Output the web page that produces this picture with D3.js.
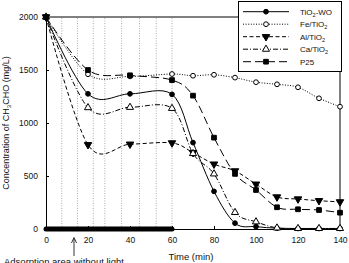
<!DOCTYPE html>
<html>
<head>
<meta charset="utf-8">
<script src="https://cdn.jsdelivr.net/npm/d3@7"></script>
<style>
  body { margin: 0; background: #fff; }
  svg { display: block; font-family: Arial, "Liberation Sans", sans-serif; }
</style>
</head>
<body>
<svg id="chart"></svg>
<script>
// data
var times = [0, 20, 40, 60, 70, 80, 90, 100, 110, 120, 130, 140];
var tio2wo = [2000, 1275, 1275, 1270, 815, 355, 55, 22, 8, 5, 5, 5];
var feTio2 = [2000, 1460, 1440, 1462, 1446, 1455, 1428, 1385, 1365, 1337, 1233, 1154];
var alTio2 = [2000, 795, 800, 812, 720, 612, 548, 423, 302, 283, 267, 256];
var caTio2 = [2000, 1145, 1148, 1138, 712, 520, 156, 68, 10, 5, 5, 5];
var p25 = [2000, 1500, 1450, 1405, 1258, 862, 520, 368, 205, 186, 179, 154];
var gridTimes = [7.5, 15, 22.5, 28, 36, 44.5, 52.5, 60];
var darkSpan = [0, 60];
var xTicks = [0, 20, 40, 60, 80, 100, 120, 140];
var yTicks = [0, 500, 1000, 1500, 2000];

var svg = d3.select("#chart").attr('width', 349).attr('height', 263);

var xScale = d3.scaleLinear().domain([0, 140]).range([46, 340]);
var yScale = d3.scaleLinear().domain([0, 2000]).range([229, 17]);

// vertical dotted lines in the dark period
svg.selectAll('.grid')
  .data(gridTimes)
  .enter()
  .append('line')
  .attr('x1', function(d){return xScale(d)})
  .attr('x2', function(d){return xScale(d)})
  .attr('y1', yScale(0))
  .attr('y2', yScale(2000))
  .attr('stroke', '#999')
  .attr('stroke-width', 0.8)
  .attr('stroke-dasharray', '1,1.5');

// frame
svg.append('path')
  .attr('d', 'M' + xScale(0) + ',' + yScale(2000) + 'H' + xScale(140) + 'V' + yScale(0))
  .attr('fill', 'none')
  .attr('stroke', '#000')
  .attr('stroke-width', 1);

var xAxis = d3.axisBottom(xScale).tickValues(xTicks).tickSizeInner(-3).tickSizeOuter(0).tickPadding(8);
var yAxis = d3.axisLeft(yScale).tickValues(yTicks).tickFormat(d3.format('d')).tickSizeInner(-3).tickSizeOuter(0).tickPadding(8);

var gx = svg.append('g').attr('transform', 'translate(0,' + yScale(0) + ')').call(xAxis);
var gy = svg.append('g').attr('transform', 'translate(' + xScale(0) + ',0)').call(yAxis);
[gx, gy].forEach(function(g){
  g.selectAll('text').attr('font-size', 8.5).attr('font-family', 'Arial, "Liberation Sans", sans-serif').attr('fill', '#111');
  g.select('.domain').attr('stroke', '#000');
});

var series = [
  {name: 'TiO2-WO', sub: ['TiO', '2', '-WO'], values: tio2wo, dash: null, marker: 'circle', fill: '#000'},
  {name: 'Fe/TiO2', sub: ['Fe/TiO', '2', ''], values: feTio2, dash: '1,1.6', marker: 'circle', fill: '#fff'},
  {name: 'Al/TiO2', sub: ['Al/TiO', '2', ''], values: alTio2, dash: '4,2.5', marker: 'down', fill: '#000'},
  {name: 'Ca/TiO2', sub: ['Ca/TiO', '2', ''], values: caTio2, dash: '5,2,1,2', marker: 'up', fill: '#fff'},
  {name: 'P25', sub: ['P25', '', ''], values: p25, dash: '8,4', marker: 'square', fill: '#000'}
];

var line = d3.line()
  .x(function(d){return xScale(d[0])})
  .y(function(d){return yScale(d[1])})
  .curve(d3.curveCatmullRom.alpha(0));

var symbolFor = function(m){
  if (m == 'circle') return d3.symbol().type(d3.symbolCircle).size(18)();
  if (m == 'square') return d3.symbol().type(d3.symbolSquare).size(22)();
  if (m == 'up') return d3.symbol().type(d3.symbolTriangle).size(22)();
  return d3.symbol().type(d3.symbolTriangle).size(24)();
};

series.forEach(function(s){
  var pts = times.map(function(t, i){return [t, s.values[i]]});
  svg.append('path')
    .attr('d', line(pts))
    .attr('fill', 'none')
    .attr('stroke', '#000')
    .attr('stroke-width', 1)
    .attr('stroke-dasharray', s.dash);
  svg.selectAll(null)
    .data(pts)
    .enter()
    .append('path')
    .attr('d', symbolFor(s.marker))
    .attr('transform', function(d){
      return 'translate(' + xScale(d[0]) + ',' + yScale(d[1]) + ')' + (s.marker == 'down' ? ' rotate(180)' : '');
    })
    .attr('fill', s.fill)
    .attr('stroke', '#000')
    .attr('stroke-width', 1);
});

// thick bar for the adsorption period
svg.append('line')
  .attr('x1', xScale(darkSpan[0]))
  .attr('x2', xScale(darkSpan[1]))
  .attr('y1', yScale(0))
  .attr('y2', yScale(0))
  .attr('stroke', '#000')
  .attr('stroke-width', 5)
  .attr('stroke-linecap', 'round');

// legend
var legend = svg.append('g');
legend.append('rect')
  .attr('x', 238.5).attr('y', 1.5).attr('width', 103).attr('height', 70)
  .attr('fill', '#fff').attr('stroke', '#000').attr('stroke-width', 1);

series.forEach(function(s, i){
  var ly = 11.7 + i * 12.5;
  legend.append('line')
    .attr('x1', 243).attr('x2', 289).attr('y1', ly).attr('y2', ly)
    .attr('stroke', '#000').attr('stroke-width', 1).attr('stroke-dasharray', s.dash);
  legend.append('path')
    .attr('d', symbolFor(s.marker))
    .attr('transform', 'translate(266,' + ly + ')' + (s.marker == 'down' ? ' rotate(180)' : ''))
    .attr('fill', s.fill).attr('stroke', '#000').attr('stroke-width', 1);
  var t = legend.append('text').attr('x', 300).attr('y', ly + 3).attr('font-size', 8).attr('fill', '#111');
  t.append('tspan').text(s.sub[0]);
  if (s.sub[1]) {
    t.append('tspan').attr('font-size', 5.5).attr('dy', 2).text(s.sub[1]);
    t.append('tspan').attr('dy', -2).text(s.sub[2]);
  }
});

// axis titles
var yl = svg.append('text')
  .attr('transform', 'translate(9,123) rotate(-90)')
  .attr('text-anchor', 'middle')
  .attr('font-size', 9)
  .attr('fill', '#111');
yl.append('tspan').text('Concentration of CH');
yl.append('tspan').attr('font-size', 6).attr('dy', 2).text('3');
yl.append('tspan').attr('dy', -2).text('CHO (mg/L)');

svg.append('text')
  .attr('x', 191).attr('y', 260)
  .attr('text-anchor', 'middle')
  .attr('font-size', 9.5)
  .attr('fill', '#111')
  .text('Time (min)');

// arrow + note for the dark period
svg.append('line')
  .attr('x1', 74).attr('x2', 74).attr('y1', 256).attr('y2', 239)
  .attr('stroke', '#000').attr('stroke-width', 0.8);
svg.append('path')
  .attr('d', 'M71.5,243 L74,237.5 L76.5,243')
  .attr('fill', 'none').attr('stroke', '#000').attr('stroke-width', 0.8);
svg.append('text')
  .attr('x', 4).attr('y', 265)
  .attr('font-size', 9.5)
  .attr('fill', '#111')
  .text('Adsorption area without light');
</script>
</body>
</html>
